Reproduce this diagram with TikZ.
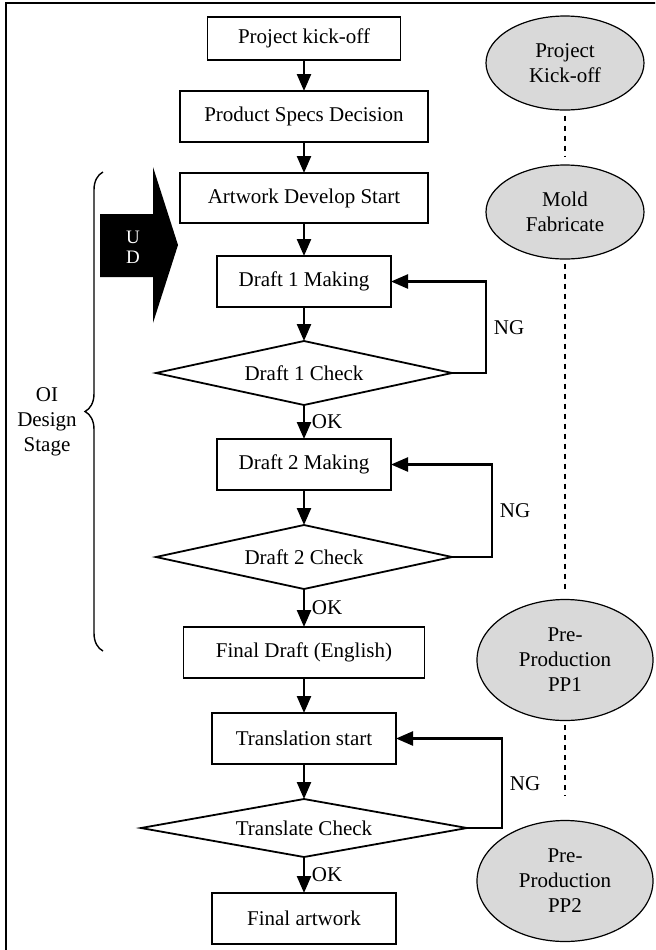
\documentclass[tikz,border=0pt]{standalone}
\usepackage{fontspec}
\setmainfont{Liberation Serif}
\usetikzlibrary{positioning,arrows.meta,shapes.geometric,decorations.pathreplacing}
\definecolor{cgray}{HTML}{D9D9D9}
\tikzset{
  box/.style={draw, line width=0.9pt, outer sep=0pt, minimum height=25.5pt, align=center, inner sep=1pt},
  chk/.style={diamond, draw, line width=0.9pt, outer sep=0pt, aspect=5, inner sep=1pt, minimum width=148pt, minimum height=32pt},
  stage/.style={ellipse, draw, line width=0.6pt, fill=cgray, align=center, inner sep=1pt},
  sig/.style={-{Triangle[length=8.5pt, width=7pt]}, line width=1.2pt},
  link/.style={dashed, dash pattern=on 2.5pt off 2.5pt, line width=0.6pt},
}
\begin{document}
\begin{tikzpicture}[x=0.5pt, y=-0.5pt, node distance=17pt, every node/.style={font=\fontsize{10.5pt}{12.5pt}\selectfont}]
  \clip (0,0) rectangle (655,950);
  \draw[line width=0.9pt] (6,3) rectangle (700,1000);
  % main flow
  \node[box, minimum width=96.5pt, minimum height=21.5pt] (kick) at (304,38.5) {Project kick-off};
  \node[box, minimum width=124pt, below=15.5pt of kick] (spec) {Product Specs Decision};
  \node[box, minimum width=124pt, minimum height=25pt, below=15.5pt of spec] (art) {Artwork Develop Start};
  \node[box, minimum width=87pt, below=16.5pt of art] (mk1) {Draft 1 Making};
  \node[chk, below=of mk1] (ck1) {Draft 1 Check};
  \node[box, minimum width=87pt, below=of ck1] (mk2) {Draft 2 Making};
  \node[chk, below=17.5pt of mk2] (ck2) {Draft 2 Check};
  \node[box, minimum width=120.5pt, below=19pt of ck2] (eng) {Final Draft (English)};
  \node[box, minimum width=92pt, below=17.5pt of eng] (trs) {Translation start};
  \node[chk, minimum width=163pt, minimum height=29pt, below=17.5pt of trs] (tck) {Translate Check};
  \node[box, minimum width=92pt, below=18pt of tck] (fin) {Final artwork};
  \draw[sig] (kick) -- (spec);
  \draw[sig] (spec) -- (art);
  \draw[sig] (art) -- (mk1);
  \draw[sig] (mk1) -- (ck1);
  \draw[sig] (ck1) -- node[right]{OK} (mk2);
  \draw[sig] (mk2) -- (ck2);
  \draw[sig] (ck2) -- node[right]{OK} (eng);
  \draw[sig] (eng) -- (trs);
  \draw[sig] (trs) -- (tck);
  \draw[sig] (tck) -- node[right]{OK} (fin);
  % NG loops
  \draw[sig] (ck1.east) -- ++(17pt,0) |- node[pos=0.25, right]{NG} (mk1.east);
  \draw[sig] (ck2.east) -- ++(20pt,0) |- node[pos=0.25, right]{NG} (mk2.east);
  \draw[sig] (tck.east) -- ++(17.5pt,0) |- node[pos=0.25, right]{NG} (trs.east);
  % mold timeline
  \node[stage, minimum width=79pt, minimum height=47pt] (pko) at (565,63) {Project\\Kick-off};
  \node[stage, minimum width=79pt, minimum height=47pt] (mold) at (565,212) {Mold\\Fabricate};
  \node[stage, minimum width=88pt, minimum height=60.5pt] (pp1) at (565,660) {Pre-\\Production\\PP1};
  \node[stage, minimum width=88pt, minimum height=60.5pt] (pp2) at (565,881) {Pre-\\Production\\PP2};
  \draw[link, shorten <=2.5pt, shorten >=4pt] (pko) -- (mold);
  \draw[link, shorten <=2pt, shorten >=3pt] (mold) -- (pp1);
  \draw[link, shorten <=2pt, shorten >=12pt] (pp1) -- (pp2);
  % design stage brace
  \coordinate (btop) at (103,172);
  \coordinate (bbot) at (103,651);
  \draw[decorate, decoration={brace, amplitude=9pt}, line width=0.7pt] (bbot) -- (btop);
  \node[align=center] (oi) at (47,422) {OI\\Design\\Stage};
  % UD arrow
  \fill (100,214) -- (153,214) -- (153,167) -- (178,245) -- (153,323) -- (153,277) -- (100,277) -- cycle;
  \node[text=white, align=center, font=\fontsize{9.5pt}{10pt}\selectfont] (ud) at (133,247) {U\\D};
\end{tikzpicture}
\end{document}
